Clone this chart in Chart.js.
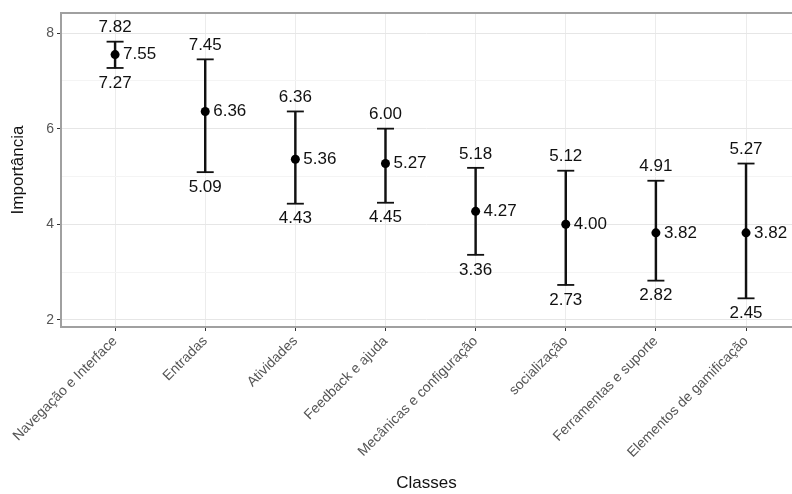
<!DOCTYPE html>
<html>
<head>
<meta charset="utf-8">
<script src="https://cdn.jsdelivr.net/npm/chart.js@4.4.1/dist/chart.umd.min.js"></script>
<style>
  html, body { margin: 0; padding: 0; background: #fff; overflow: hidden; }
  #wrap { width: 792px; height: 494px; }
</style>
</head>
<body>
<div id="wrap"><canvas id="chart-erro" width="792" height="494"></canvas></div>
<script>
// dados
const classes = ["Navegação e Interface", "Entradas", "Atividades", "Feedback e ajuda",
    "Mecânicas e configuração", "socialização", "Ferramentas e suporte", "Elementos de gamificação"];
const medias = [7.55, 6.36, 5.36, 5.27, 4.27, 4.00, 3.82, 3.82];
const inferiores = [7.27, 5.09, 4.43, 4.45, 3.36, 2.73, 2.82, 2.45];
const superiores = [7.82, 7.45, 6.36, 6.00, 5.18, 5.12, 4.91, 5.27];
const yTicksMaiores = [2, 4, 6, 8];
const yTicksMenores = [3, 5, 7];

const fonte = "'Liberation Sans', Arial, sans-serif";

const barras = classes.map((c, i) => ({ x: i, y: [inferiores[i], superiores[i]] }));
const capas = [];
classes.forEach((c, i) => {
    capas.push({ x: i, y: inferiores[i] });
    capas.push({ x: i, y: superiores[i] });
});
const pontos = classes.map((c, i) => ({ x: i, y: medias[i] }));

// moldura do painel + rotulos dos valores
const rotulosPlugin = {
    id: 'rotulos',
    afterDatasetsDraw(chart) {
        const ctx = chart.ctx;
        const area = chart.chartArea;
        const xs = chart.scales.x, ys = chart.scales.y;
        ctx.save();
        ctx.strokeStyle = '#a0a0a0';
        ctx.lineWidth = 2;
        ctx.beginPath();
        ctx.moveTo(area.right + 2, area.top);
        ctx.lineTo(area.left, area.top);
        ctx.lineTo(area.left, area.bottom);
        ctx.lineTo(area.right + 2, area.bottom);
        ctx.stroke();

        ctx.fillStyle = '#111';
        ctx.font = '17px ' + fonte;
        ctx.textBaseline = 'middle';
        classes.forEach((c, i) => {
            const px = xs.getPixelForValue(i);
            ctx.textAlign = 'center';
            ctx.fillText(superiores[i].toFixed(2), px, ys.getPixelForValue(superiores[i]) - 14);
            ctx.fillText(inferiores[i].toFixed(2), px, ys.getPixelForValue(inferiores[i]) + 15);
            ctx.textAlign = 'left';
            ctx.fillText(medias[i].toFixed(2), px + 8, ys.getPixelForValue(medias[i]));
        });
        ctx.restore();
    }
};

var ctx = document.getElementById("chart-erro").getContext("2d");

new Chart(ctx, {
    type: 'scatter',
    data: {
        datasets: [{
            type: 'bar',
            label: 'intervalo',
            data: barras,
            backgroundColor: '#111',
            barThickness: 1.8,
            grouped: false,
            order: 3
        }, {
            label: 'limites',
            data: capas,
            pointStyle: 'line',
            pointRadius: 8.5,
            borderColor: '#111',
            borderWidth: 1.8,
            order: 2
        }, {
            label: 'media',
            data: pontos,
            pointStyle: 'circle',
            pointRadius: 4.5,
            backgroundColor: '#000',
            borderColor: '#000',
            borderWidth: 0,
            order: 1
        }]
    },
    options: {
        responsive: false,
        animation: false,
        layout: { autoPadding: false, padding: { top: 13, left: 0, right: 0, bottom: 0 } },
        plugins: {
            legend: { display: false },
            tooltip: { enabled: false }
        },
        scales: {
            x: {
                type: 'linear',
                min: -0.6,
                max: 7.51,
                offset: false,
                afterBuildTicks: function (scale) {
                    scale.ticks = classes.map((c, i) => ({ value: i }));
                },
                afterFit: function (scale) { scale.height = 167; },
                border: { display: false },
                grid: {
                    offset: false,
                    color: '#ececec',
                    lineWidth: 1,
                    tickColor: '#333',
                    tickLength: 4
                },
                ticks: {
                    autoSkip: false,
                    minRotation: 45,
                    maxRotation: 45,
                    padding: 2,
                    color: '#555',
                    font: { size: 14, family: fonte },
                    callback: function (v) { return classes[v]; }
                },
                title: {
                    display: true,
                    text: 'Classes',
                    color: '#111',
                    padding: { top: 0, bottom: 0 },
                    font: { size: 17, family: fonte }
                }
            },
            y: {
                min: 1.85,
                max: 8.42,
                afterBuildTicks: function (scale) {
                    scale.ticks = yTicksMaiores.concat(yTicksMenores)
                        .sort((a, b) => a - b)
                        .map(v => ({ value: v }));
                },
                afterFit: function (scale) { scale.width = 61; },
                border: { display: false },
                grid: {
                    color: c => yTicksMaiores.includes(c.tick.value) ? '#e6e6e6' : '#f4f4f4',
                    tickColor: c => yTicksMaiores.includes(c.tick.value) ? '#333' : 'transparent',
                    tickLength: 4
                },
                ticks: {
                    padding: 3,
                    color: '#555',
                    font: { size: 14, family: fonte },
                    callback: v => yTicksMaiores.includes(v) ? String(v) : ''
                },
                title: {
                    display: true,
                    text: 'Importância',
                    color: '#111',
                    padding: { top: 8, bottom: 0 },
                    font: { size: 17, family: fonte }
                }
            }
        }
    },
    plugins: [rotulosPlugin]
});
</script>
</body>
</html>
